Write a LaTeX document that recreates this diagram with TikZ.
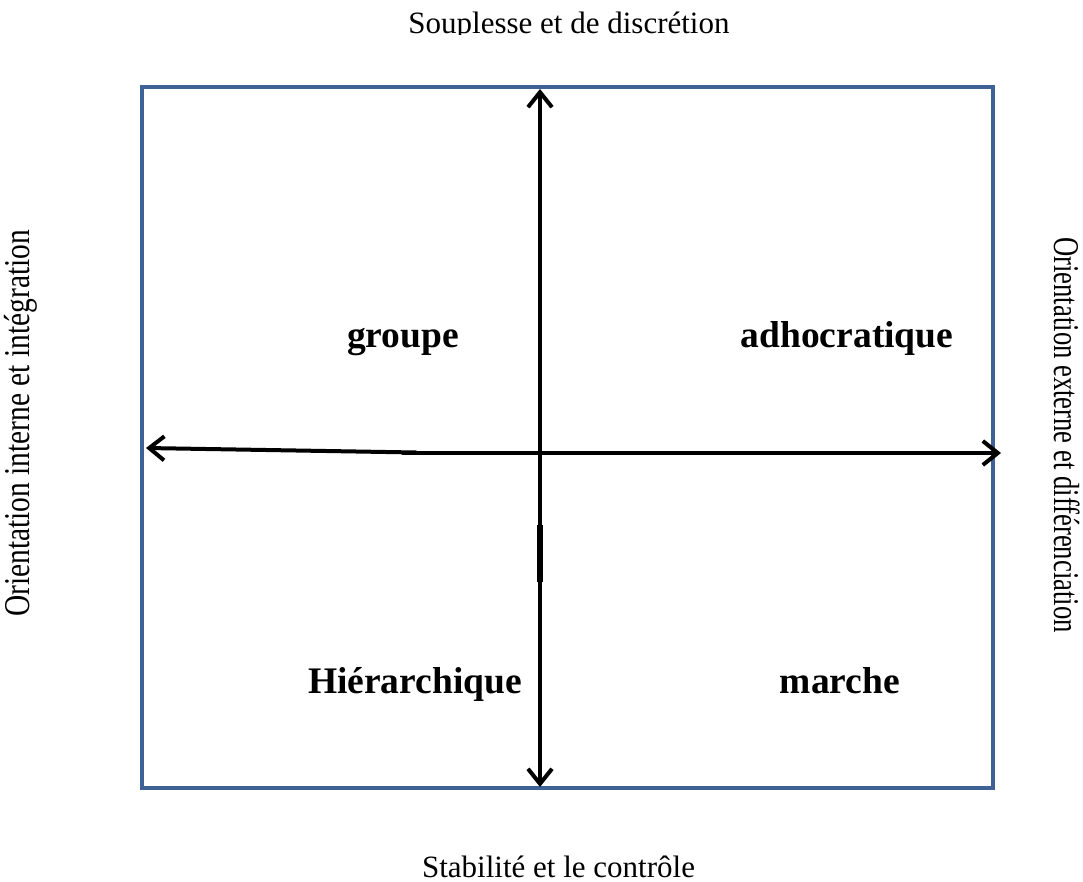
\documentclass[tikz,border=0pt]{standalone}
\usepackage{fontspec}
\setmainfont{Liberation Serif}
\usetikzlibrary{arrows.meta}
\definecolor{frameblue}{RGB}{62,97,150}
\tikzset{
  frame/.style={draw=frameblue,line width=3.8pt},
  axis/.style={line width=4pt,line cap=round,line join=round,-{Straight Barb[length=15pt,width=24pt,line width=4pt]}},
  reg/.style={font=\fontsize{31}{37}\selectfont,inner sep=0pt},
  quad/.style={font=\fontsize{37.5}{44}\selectfont\bfseries,inner sep=0pt,anchor=base}
}
\begin{document}
\begin{tikzpicture}[x=1pt,y=-1pt]
\useasboundingbox (0,0) rectangle (1083,882);
\fill[white] (0,0) rectangle (1083,882);
% frame
\node[frame,minimum width=851pt,minimum height=701pt,inner sep=0pt] (box) at (567.5,437.5) {};
% axes
\coordinate (vtop) at (540,89);
\coordinate (vbot) at (540,787);
\coordinate (vmid) at (540,453);
\coordinate (hleft) at (146,448);
\coordinate (hstart) at (416,452.5);
\coordinate (hjoin) at (403,453);
\coordinate (hright) at (1001,453);
\coordinate (ta) at (540,525);
\coordinate (tb) at (540,582);
\draw[axis] (vmid) -- (vtop);
\draw[axis] (vmid) -- (vbot);
\draw[axis] (hstart) -- (hleft);
\draw[axis] (hjoin) -- (hright);
\draw[line width=5.5pt] (ta) -- (tb);
% quadrant labels
\node[quad] (groupe) at (403,347) {groupe};
\node[quad] (adho) at (847,347) {adhocratique};
\node[quad] (hier) at (415,693) {Hiérarchique};
\node[quad] (marche) at (840,693) {marche};
% axis labels
\begin{scope}
\clip (0,0) rectangle (1083,35);
\node[reg,anchor=base] (top) at (569,34) {Souplesse et de discrétion};
\end{scope}
\node[reg,anchor=base] (bottom) at (558.5,877) {Stabilité et le contrôle};
\node[reg,rotate=90] (left) at (20.5,423.5) {\scalebox{0.95}[1.17]{Orientation interne et intégration}};
\node[reg,rotate=-90] (right) at (1067.5,435) {\scalebox{0.86}[1.17]{Orientation externe et différenciation}};
\end{tikzpicture}
\end{document}
